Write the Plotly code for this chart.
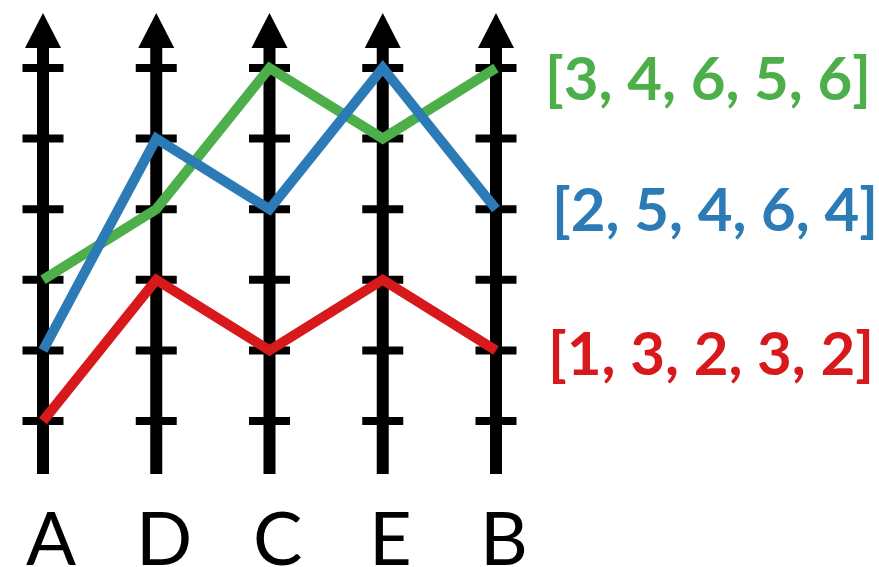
import plotly.graph_objects as go

categories = ['A', 'D', 'C', 'E', 'B']
green_vals = [3, 4, 6, 5, 6]
blue_vals = [2, 5, 4, 6, 4]
red_vals = [1, 3, 2, 3, 2]
tick_vals = [1, 2, 3, 4, 5, 6]

series = [
    ('red', red_vals, '#d7191c'),
    ('green', green_vals, '#4daf4a'),
    ('blue', blue_vals, '#2c7bb6'),
]

xpos = list(range(len(categories)))

fig = go.Figure()

# vertical axes with arrows and tick marks, drawn below the lines
for x in xpos:
    fig.add_shape(type='line', x0=x, x1=x, y0=0.25, y1=6.30,
                  line=dict(color='black', width=12), layer='below')
    fig.add_shape(type='path',
                  path=f'M {x - 0.159},6.283 L {x + 0.159},6.283 L {x},6.78 Z',
                  fillcolor='black', line=dict(width=0), layer='below')
    for t in tick_vals:
        fig.add_shape(type='line', x0=x - 0.181, x1=x + 0.181, y0=t, y1=t,
                      line=dict(color='black', width=8), layer='below')

for name, vals, color in series:
    fig.add_trace(go.Scatter(
        x=xpos, y=vals, mode='lines', name=name,
        line=dict(color=color, width=10),
        showlegend=False
    ))

# category letters under the axes
for x, cat in zip(xpos, categories):
    fig.add_annotation(x=x, y=0.0476, xref='x', yref='paper', text=cat,
                       showarrow=False, xshift=8, yshift=4, yanchor='middle',
                       font=dict(family='Lato', size=74, color='black'))

# value lists on the right
label_pos = {'green': (0.618, 77), 'blue': (0.626, 208), 'red': (0.621, 352)}
for name, vals, color in series:
    px, py = label_pos[name]
    fig.add_annotation(x=px, y=1 - py / 567, xref='paper', yref='paper',
                       text='[' + ', '.join(str(v) for v in vals) + ']',
                       showarrow=False, xanchor='left', yanchor='middle',
                       font=dict(family='Lato', size=60, color=color, weight='bold'))

fig.update_layout(
    width=879, height=567,
    margin=dict(l=0, r=0, t=0, b=0),
    paper_bgcolor='white', plot_bgcolor='white',
    xaxis=dict(range=[-0.3797, 7.3819], visible=False, fixedrange=True),
    yaxis=dict(range=[-1.068, 6.963], visible=False, fixedrange=True),
)

# the page body has a default 8px margin, drop it so the figure fills the window
fig.write_html('out.html', config={'displayModeBar': False},
               post_script="document.body.style.margin='0';")
